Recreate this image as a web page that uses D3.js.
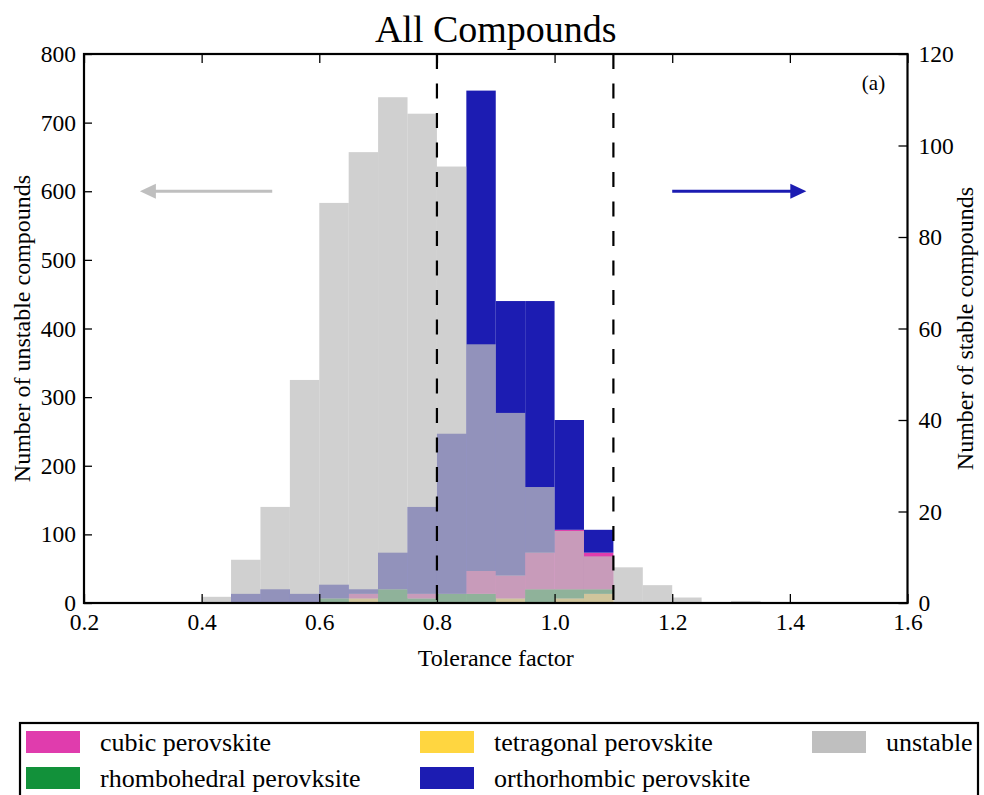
<!DOCTYPE html>
<html>
<head>
<meta charset="utf-8">
<script src="https://cdn.jsdelivr.net/npm/d3@7"></script>
<style>
body { margin: 0; background: #fff; }
text { font-family: "Liberation Serif", "Times New Roman", serif; fill: #000; }
</style>
</head>
<body>
<div id="chart"></div>
<script>
// histogram bins, left edge of each bin (width 0.05)
var binStarts = [0.40, 0.45, 0.50, 0.55, 0.60, 0.65, 0.70, 0.75, 0.80, 0.85,
                 0.90, 0.95, 1.00, 1.05, 1.10, 1.15, 1.20, 1.25, 1.30];
var binWidth = 0.05;

// unstable compounds (left axis)
var unstable = [9, 63, 140, 325, 583, 657, 737, 713, 636, 377,
                277, 169, 105, 68, 52, 26, 8, 0, 3];

// stable compounds per structure (right axis, stacked)
var tetragonal   = [0, 0, 0, 0, 0, 1, 0, 0, 0, 0, 1, 0, 1, 2, 0, 0, 0, 0, 0];
var rhombohedral = [0, 0, 0, 0, 1, 0, 3, 1, 2, 2, 0, 3, 2, 1, 0, 0, 0, 0, 0];
var cubic        = [0, 0, 0, 0, 0, 1, 0, 1, 0, 5, 5, 8, 13, 8, 0, 0, 0, 0, 0];
var orthorhombic = [0, 2, 3, 2, 3, 1, 8, 19, 35, 105, 60, 55, 24, 5, 0, 0, 0, 0, 0];

var xTicks = [0.2, 0.4, 0.6, 0.8, 1.0, 1.2, 1.4, 1.6];
var leftTicks = [0, 100, 200, 300, 400, 500, 600, 700, 800];
var rightTicks = [0, 20, 40, 60, 80, 100, 120];
var boundaries = [0.8, 1.1];

var stackKeys = ["tetragonal", "rhombohedral", "cubic", "orthorhombic"];
var colors = {
    cubic: "#e03cad",
    tetragonal: "#ffd640",
    unstable: "#bfbfbf",
    rhombohedral: "#12913a",
    orthorhombic: "#1c1cb2"
};
var legendItems = [
    { key: "cubic", label: "cubic perovskite" },
    { key: "rhombohedral", label: "rhombohedral perovksite" },
    { key: "tetragonal", label: "tetragonal perovskite" },
    { key: "orthorhombic", label: "orthorhombic perovskite" },
    { key: "unstable", label: "unstable" }
];

var width = 984, height = 795;
var margin = { left: 84, top: 54, right: 76.5, bottom: 192 };
var innerWidth = width - margin.left - margin.right;
var innerHeight = height - margin.top - margin.bottom;

var svg = d3.select("#chart").append("svg")
    .attr("width", width)
    .attr("height", height);
var g = svg.append("g")
    .attr("transform", "translate(" + margin.left + "," + margin.top + ")");

var x = d3.scaleLinear().domain([0.2, 1.6]).range([0, innerWidth]);
var yLeft = d3.scaleLinear().domain([0, 800]).range([innerHeight, 0]);
var yRight = d3.scaleLinear().domain([0, 120]).range([innerHeight, 0]);

// rows for the stacked stable histogram
var rows = binStarts.map(function (b, i) {
    return { start: b, tetragonal: tetragonal[i], rhombohedral: rhombohedral[i],
             cubic: cubic[i], orthorhombic: orthorhombic[i] };
});
var stacked = d3.stack().keys(stackKeys)(rows);

// stable bars (drawn first, grey goes on top with alpha)
var layers = g.selectAll("g.layer")
    .data(stacked)
    .enter().append("g")
    .attr("class", "layer")
    .attr("fill", function (d) { return colors[d.key]; });
layers.selectAll("rect")
    .data(function (d) { return d; })
    .enter().append("rect")
    .attr("x", function (d) { return x(d.data.start); })
    .attr("width", function (d) { return x(d.data.start + binWidth) - x(d.data.start); })
    .attr("y", function (d) { return yRight(d[1]); })
    .attr("height", function (d) { return yRight(d[0]) - yRight(d[1]); });

// unstable bars
g.append("g").selectAll("rect")
    .data(unstable)
    .enter().append("rect")
    .attr("x", function (d, i) { return x(binStarts[i]); })
    .attr("width", function (d, i) { return x(binStarts[i] + binWidth) - x(binStarts[i]); })
    .attr("y", function (d) { return yLeft(d); })
    .attr("height", function (d) { return innerHeight - yLeft(d); })
    .attr("fill", colors.unstable)
    .attr("fill-opacity", 0.73);

// dashed boundary lines
g.selectAll("line.bound")
    .data(boundaries)
    .enter().append("line")
    .attr("class", "bound")
    .attr("x1", function (d) { return x(d); })
    .attr("x2", function (d) { return x(d); })
    .attr("y1", 0)
    .attr("y2", innerHeight)
    .attr("stroke", "#000")
    .attr("stroke-width", 2.2)
    .attr("stroke-dasharray", "15,14.5");

// arrows pointing at the axes
function arrow(x0, x1, yv, color) {
    var dir = x1 > x0 ? 1 : -1;
    var tip = x(x1), yp = yLeft(yv);
    g.append("line")
        .attr("x1", x(x0)).attr("x2", tip - dir * 14)
        .attr("y1", yp).attr("y2", yp)
        .attr("stroke", color).attr("stroke-width", 3);
    g.append("path")
        .attr("d", "M" + tip + "," + yp + "L" + (tip - dir * 16) + "," + (yp - 7.5) +
                   "L" + (tip - dir * 16) + "," + (yp + 7.5) + "Z")
        .attr("fill", color);
}
arrow(0.52, 0.295, 600, colors.unstable);
arrow(1.2, 1.428, 600, colors.orthorhombic);

// axes
var xAxis = g.append("g")
    .attr("transform", "translate(0," + innerHeight + ")")
    .call(d3.axisBottom(x).tickValues(xTicks).tickSizeInner(-9).tickSizeOuter(0).tickPadding(10)
        .tickFormat(d3.format(".1f")));
var xTop = g.append("g")
    .call(d3.axisTop(x).tickValues(xTicks).tickSizeInner(-9).tickSizeOuter(0).tickFormat(""));
var leftAxis = g.append("g")
    .call(d3.axisLeft(yLeft).tickValues(leftTicks).tickSizeInner(-8).tickSizeOuter(0).tickPadding(8));
var rightAxis = g.append("g")
    .attr("transform", "translate(" + innerWidth + ",0)")
    .call(d3.axisRight(yRight).tickValues(rightTicks).tickSizeInner(-9).tickSizeOuter(0).tickPadding(11));

[xAxis, xTop, leftAxis, rightAxis].forEach(function (a) {
    a.select(".domain").remove();
    a.selectAll(".tick line").attr("stroke", "#000").attr("stroke-width", 1.3);
    a.selectAll(".tick text").style("font-size", "23.5px")
        .style("font-family", "'Liberation Serif', 'Times New Roman', serif");
});
xAxis.selectAll(".tick text").attr("dy", "0.71em");

// frame
g.append("rect")
    .attr("width", innerWidth)
    .attr("height", innerHeight)
    .attr("fill", "none")
    .attr("stroke", "#000")
    .attr("stroke-width", 2.2);

// texts
svg.append("text")
    .attr("x", margin.left + innerWidth / 2)
    .attr("y", 42)
    .attr("text-anchor", "middle")
    .style("font-size", "38px")
    .text("All Compounds");

g.append("text")
    .attr("x", innerWidth - 34)
    .attr("y", 36)
    .attr("text-anchor", "middle")
    .style("font-size", "21px")
    .text("(a)");

svg.append("text")
    .attr("x", margin.left + innerWidth / 2)
    .attr("y", 666)
    .attr("text-anchor", "middle")
    .style("font-size", "24px")
    .text("Tolerance factor");

svg.append("text")
    .attr("transform", "translate(30," + (margin.top + innerHeight / 2) + ") rotate(-90)")
    .attr("text-anchor", "middle")
    .style("font-size", "24px")
    .text("Number of unstable compounds");

svg.append("text")
    .attr("transform", "translate(973," + (margin.top + innerHeight / 2) + ") rotate(-90)")
    .attr("text-anchor", "middle")
    .style("font-size", "24px")
    .text("Number of stable compounds");

// legend
var legend = svg.append("g");
legend.append("rect")
    .attr("x", 20).attr("y", 723)
    .attr("width", 958).attr("height", 100)
    .attr("fill", "#fff")
    .attr("stroke", "#000")
    .attr("stroke-width", 2.2);

var colX = [26, 420, 812];
var rowY = [731, 767];
var items = legend.selectAll("g.item")
    .data(legendItems)
    .enter().append("g")
    .attr("class", "item")
    .attr("transform", function (d, i) {
        return "translate(" + colX[Math.floor(i / 2)] + "," + rowY[i % 2] + ")";
    });
items.append("rect")
    .attr("width", 54).attr("height", 22)
    .attr("fill", function (d) { return colors[d.key]; });
items.append("text")
    .attr("x", 74)
    .attr("y", 11)
    .attr("dy", "0.35em")
    .style("font-size", "26px")
    .text(function (d) { return d.label; });
</script>
</body>
</html>
